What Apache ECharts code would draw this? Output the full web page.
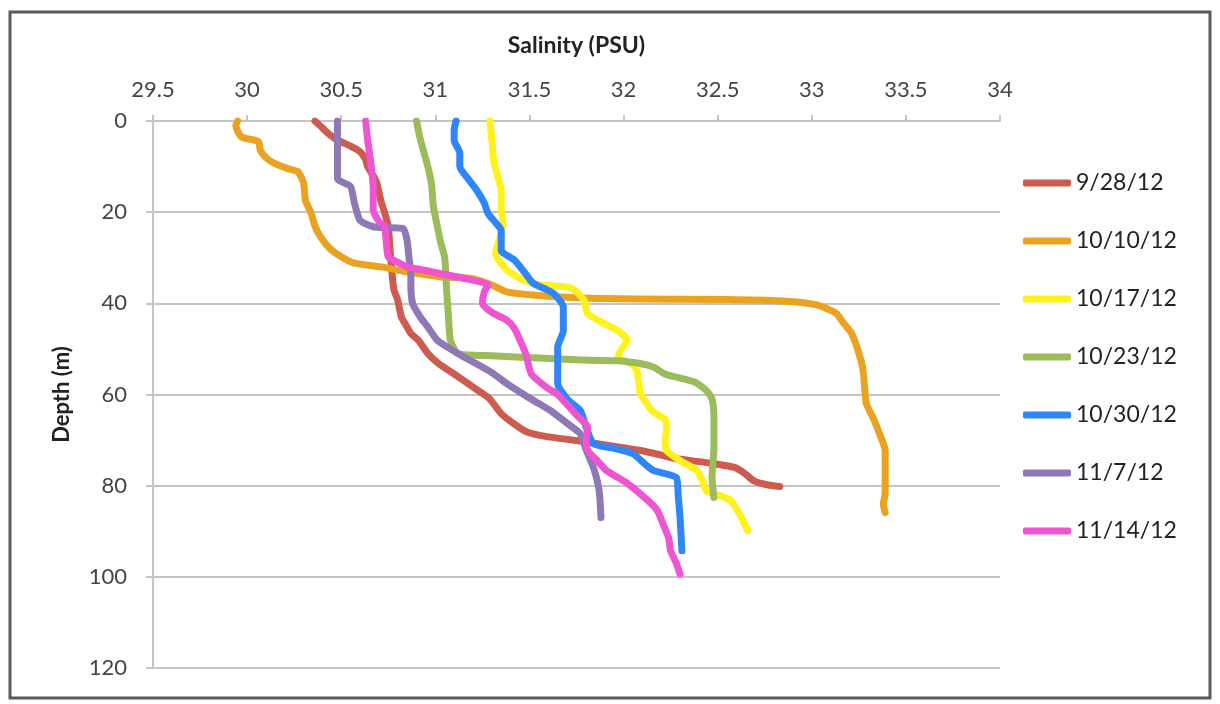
<!DOCTYPE html>
<html>
<head>
<meta charset="utf-8">
<title>Salinity profiles</title>
<script src="https://cdn.jsdelivr.net/npm/echarts@6/dist/echarts.min.js"></script>
<style>
  html, body { margin: 0; padding: 0; background: #ffffff; }
  #chart { width: 1220px; height: 704px; }
</style>
</head>
<body>
<div id="chart"></div>
<script>
// Salinity (PSU) vs depth (m) profiles, one per sampling date: [salinity, depth]
const dates = ['9/28/12', '10/10/12', '10/17/12', '10/23/12', '10/30/12', '11/7/12', '11/14/12'];

const xTicks = { min: 29.5, max: 34, step: 0.5 };
const yTicks = { min: 0, max: 120, step: 20 };

const p0928 = [[30.36,0],[30.40,1.5],[30.43,2.7],[30.48,4.2],[30.55,5.5],[30.60,6.7],[30.63,8.5],[30.64,10],[30.67,12],[30.69,13.7],[30.71,17.4],[30.73,20],[30.75,23.2],[30.76,28.4],[30.77,33.5],[30.78,37],[30.80,39.3],[30.82,43],[30.85,45.2],[30.87,46.6],[30.91,48.1],[30.96,51],[31.02,53.3],[31.10,55.5],[31.18,57.8],[31.24,59.5],[31.29,61],[31.35,64.2],[31.42,66.5],[31.49,68.3],[31.60,69.3],[31.75,70.1],[31.92,71.2],[32.09,72.3],[32.20,73.3],[32.28,74.1],[32.45,75],[32.59,76],[32.65,77.5],[32.69,78.9],[32.76,79.8],[32.83,80.2]];

const p1010 = [[29.95,0],[29.94,1],[29.97,3.5],[30.06,4.5],[30.07,6.4],[30.10,8],[30.14,9.2],[30.22,10.5],[30.27,11.1],[30.30,13.6],[30.31,17.4],[30.34,20.2],[30.36,23],[30.39,25.4],[30.44,28],[30.50,29.8],[30.57,31.2],[30.71,32],[30.85,33.1],[31.03,34.2],[31.20,34.6],[31.30,36],[31.38,37.5],[31.55,38.3],[31.82,38.9],[32.30,39.1],[32.76,39.3],[32.92,39.7],[33.03,40.4],[33.13,42.2],[33.17,44.4],[33.21,46.5],[33.24,49.6],[33.27,54],[33.28,58],[33.29,62],[33.33,65.5],[33.36,68.6],[33.39,72.3],[33.39,77],[33.39,81.8],[33.38,84],[33.39,85.9]];

const p1017 = [[31.29,0],[31.30,4],[31.31,8.6],[31.33,12],[31.35,15.2],[31.35,19],[31.36,22.5],[31.34,26],[31.32,29.1],[31.38,32.7],[31.45,34.5],[31.52,35.7],[31.60,36.1],[31.70,36.4],[31.74,37.1],[31.79,39.3],[31.81,42.3],[31.90,44.5],[31.97,46],[32.02,48.1],[31.99,50],[31.97,51.8],[32.05,53.5],[32.07,54.7],[32.08,57],[32.09,59.8],[32.15,63.5],[32.22,65.5],[32.23,67.2],[32.22,70],[32.23,72.3],[32.30,74.5],[32.39,76.7],[32.42,79],[32.44,81.1],[32.52,82.3],[32.57,83.3],[32.62,86.5],[32.66,89.9]];

const p1023 = [[30.90,0],[30.92,4],[30.96,10],[30.98,14],[30.99,18.8],[31.01,23],[31.03,26.9],[31.05,30],[31.06,37.1],[31.07,43],[31.08,48.1],[31.12,51],[31.30,51.5],[31.55,52],[31.82,52.5],[31.97,52.6],[32.10,53.3],[32.16,54],[32.22,55.5],[32.28,56.2],[32.38,57.3],[32.44,59.1],[32.47,61],[32.48,65],[32.48,72],[32.47,78],[32.48,82.6]];

const p1030 = [[31.11,0],[31.10,2],[31.10,4.2],[31.13,7],[31.13,10],[31.18,13],[31.22,15.2],[31.26,18],[31.28,20.3],[31.32,22.3],[31.35,24],[31.35,28.4],[31.42,30.5],[31.47,33],[31.52,35.6],[31.58,36.8],[31.63,37.9],[31.68,40.8],[31.68,46],[31.65,49.6],[31.65,54],[31.65,57.6],[31.70,61],[31.77,63.5],[31.80,67],[31.84,70.8],[31.95,71.8],[32.05,73],[32.12,75.5],[32.16,76.7],[32.28,78.2],[32.29,82],[32.30,87],[32.31,94.3]];

const p1107 = [[30.48,0],[30.48,6],[30.48,12.6],[30.55,14.4],[30.57,18],[30.60,21.8],[30.67,23.2],[30.75,23.4],[30.83,23.6],[30.85,26.2],[30.86,30],[30.87,33.4],[30.87,36],[30.88,40.1],[30.92,43],[30.96,45.2],[31.01,48.1],[31.06,49.5],[31.14,51.5],[31.22,53.3],[31.30,55.2],[31.38,57.6],[31.47,60],[31.55,62],[31.61,63.5],[31.70,66.3],[31.77,68.6],[31.80,72],[31.84,76],[31.87,81],[31.88,87]];

const p1114 = [[30.63,0],[30.64,4],[30.66,10],[30.67,15],[30.67,19.6],[30.70,22],[30.73,23.2],[30.74,27],[30.75,29.8],[30.80,31],[30.85,32],[30.95,32.8],[31.03,33.5],[31.15,34.5],[31.28,36],[31.26,37.5],[31.25,40],[31.30,42],[31.38,43.7],[31.42,45.5],[31.45,48.1],[31.48,51],[31.51,55.5],[31.59,58.4],[31.65,60],[31.68,61.3],[31.75,64.5],[31.81,67.2],[31.80,70],[31.81,72.3],[31.86,74.5],[31.91,76.7],[32.02,79.5],[32.13,83.3],[32.18,85.5],[32.21,88.4],[32.24,91.5],[32.25,94.3],[32.28,97],[32.30,99.4]];

const profiles = [p0928, p1010, p1017, p1023, p1030, p1107, p1114];
const colors = ['#CD5B4F', '#E9A321', '#FFF21C', '#9CBB5A', '#2F85FA', '#8E78B6', '#EE55D0'];

const FONT = 'Lato, "Open Sans", sans-serif';
const gridColor = '#C4C4C4';

const chart = echarts.init(document.getElementById('chart'), null, { renderer: 'canvas' });

chart.setOption({
  backgroundColor: '#ffffff',
  animation: false,
  color: colors,
  grid: { left: 153, top: 121, width: 847, height: 547, containLabel: false },
  graphic: [{
    type: 'rect',
    shape: { x: 10, y: 12, width: 1200, height: 686 },
    style: { fill: 'none', stroke: '#5a5a5a', lineWidth: 3 },
    z: 100
  }],
  legend: {
    orient: 'vertical',
    left: 1018,
    top: 166,
    icon: 'roundRect',
    itemWidth: 48,
    itemHeight: 7,
    itemGap: 34,
    textStyle: { fontFamily: FONT, fontSize: 23, color: '#222222', lineHeight: 24 },
    data: dates
  },
  xAxis: {
    type: 'value',
    position: 'top',
    min: xTicks.min,
    max: xTicks.max,
    interval: xTicks.step,
    name: 'Salinity (PSU)',
    nameLocation: 'middle',
    nameGap: 64,
    nameTextStyle: { fontFamily: FONT, fontSize: 23, fontWeight: 'bold', color: '#222222' },
    axisLine: { show: true, lineStyle: { color: gridColor, width: 2 } },
    axisTick: { show: true, inside: false, length: 6, lineStyle: { color: gridColor, width: 2 } },
    axisLabel: { fontFamily: FONT, fontSize: 22, color: '#444444', margin: 20 },
    splitLine: { show: false }
  },
  yAxis: {
    type: 'value',
    inverse: true,
    min: yTicks.min,
    max: yTicks.max,
    interval: yTicks.step,
    name: 'Depth (m)',
    nameLocation: 'middle',
    nameGap: 80,
    nameRotate: 90,
    nameTextStyle: { fontFamily: FONT, fontSize: 22, fontWeight: 'bold', color: '#222222' },
    axisLine: { show: true, lineStyle: { color: gridColor, width: 2 } },
    axisTick: { show: true, inside: false, length: 7, lineStyle: { color: gridColor, width: 2 } },
    axisLabel: { fontFamily: FONT, fontSize: 22, color: '#444444', margin: 26 },
    splitLine: { show: true, lineStyle: { color: gridColor, width: 2 } }
  },
  series: profiles.map((pts, i) => ({
    name: dates[i],
    type: 'line',
    data: pts,
    showSymbol: false,
    symbol: 'none',
    smooth: 0.2,
    lineStyle: { width: 7, color: colors[i], cap: 'round', join: 'round' },
    z: 2 + i
  }))
});
</script>
</body>
</html>
